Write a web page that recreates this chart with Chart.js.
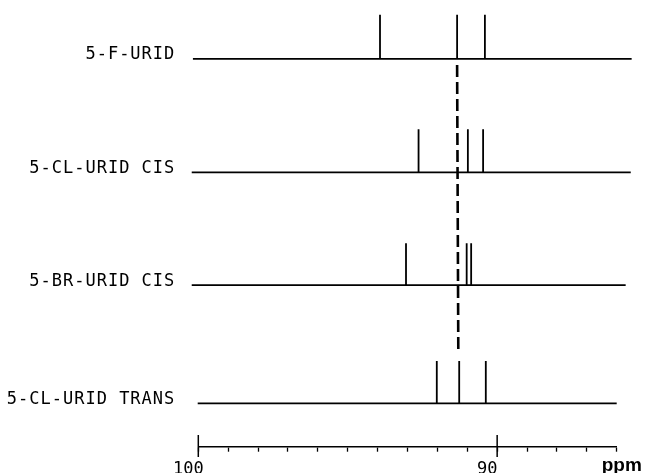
<!DOCTYPE html>
<html>
<head>
<meta charset="utf-8">
<script src="https://cdn.jsdelivr.net/npm/chart.js"></script>
<style>
  body { margin: 0; background: #fff; }
  #c { display: block; }
</style>
</head>
<body>
<canvas id="c" width="645" height="473"></canvas>
<script>
  // spectra, top to bottom
  const names = ['5-F-URID', '5-CL-URID CIS', '5-BR-URID CIS', '5-CL-URID TRANS'];
  const level = [88.8, 62.8, 37.0, 9.9];
  const peakHeight = [10.1, 9.9, 9.6, 9.7];
  const peaks = [
    [93.92, 91.34, 90.41],
    [92.63, 90.98, 90.47],
    [93.05, 91.02, 90.87],
    [92.02, 91.27, 90.38]
  ];
  // ppm window of each trace
  const sweepFrom = [100.18, 100.22, 100.22, 100.02];
  const sweepTo = [85.50, 85.53, 85.70, 86.00];
  // dash-dot guide through the middle lines
  const guideX = [91.34, 91.30];
  const guideY = [87.4, 21.6];
  const majorTicks = [100, 90];

  function stickTrace(i) {
    const pts = [{x: sweepFrom[i], y: level[i]}];
    peaks[i].forEach(p => {
      pts.push({x: p, y: level[i]}, {x: p, y: level[i] + peakHeight[i]}, {x: p, y: level[i]});
    });
    pts.push({x: sweepTo[i], y: level[i]});
    return pts;
  }

  const datasets = names.map((n, i) => ({
    label: n,
    data: stickTrace(i),
    showLine: true,
    pointRadius: 0,
    borderColor: '#000',
    borderWidth: 1.8,
    tension: 0,
    clip: false
  }));
  datasets.push({
    label: 'guide',
    data: guideX.map((x, i) => ({x: x, y: guideY[i]})),
    showLine: true,
    pointRadius: 0,
    borderColor: '#000',
    borderWidth: 2.6,
    borderDash: [12, 5],
    clip: false
  });

  const plotFont = {family: 'DejaVu Sans Mono', size: 17};

  // plotter lettering is a bit wider than the mono font
  const spacedLabels = {
    id: 'spacedLabels',
    afterUpdate(chart) {
      const s = chart.scales.y;
      if (s._spaced) return;
      const orig = s.drawLabels;
      s.drawLabels = function (area) {
        this.ctx.save();
        this.ctx.letterSpacing = '1px';
        orig.call(this, area);
        this.ctx.restore();
      };
      s._spaced = true;
    }
  };

  // long ticks at 100 / 90 and the unit
  const rulerExtras = {
    id: 'rulerExtras',
    afterDraw(chart) {
      const xs = chart.scales.x, ctx = chart.ctx, y0 = xs.top;
      ctx.save();
      ctx.strokeStyle = '#000';
      ctx.lineWidth = 1.5;
      majorTicks.forEach(v => {
        const px = xs.getPixelForValue(v);
        ctx.beginPath();
        ctx.moveTo(px, y0 - 11.7);
        ctx.lineTo(px, y0 + 10.3);
        ctx.stroke();
      });
      ctx.font = 'bold 19px "Liberation Sans"';
      ctx.fillStyle = '#000';
      ctx.textBaseline = 'alphabetic';
      ctx.fillText('ppm', xs.getPixelForValue(86) - 15, y0 + 24.5);
      ctx.restore();
    }
  };

  new Chart(document.getElementById('c'), {
    type: 'scatter',
    data: {datasets: datasets},
    plugins: [spacedLabels, rulerExtras],
    options: {
      responsive: false,
      animation: false,
      layout: {padding: {top: 10, right: 28.3, left: 0, bottom: 0}},
      plugins: {legend: {display: false}, tooltip: {enabled: false}},
      scales: {
        x: {
          type: 'linear',
          reverse: true,
          min: 86,
          max: 100,
          afterBuildTicks: s => {
            s.ticks = [];
            for (let v = 100; v >= 86; v--) s.ticks.push({value: v});
          },
          afterFit: s => {
            s.height = 26.3;
            s.paddingLeft = 0;
            s.paddingRight = 0;
          },
          grid: {drawOnChartArea: false, drawTicks: true, tickLength: 5, tickColor: '#000', tickWidth: 1.3},
          border: {display: true, color: '#000', width: 1.6},
          ticks: {
            autoSkip: false,
            maxRotation: 0,
            padding: 8,
            labelOffset: -10,
            color: '#000',
            font: plotFont,
            callback: v => majorTicks.includes(v) ? String(v) : ''
          }
        },
        y: {
          type: 'linear',
          min: 0,
          max: 100,
          afterBuildTicks: s => { s.ticks = level.map(v => ({value: v})); },
          afterFit: s => {
            s.width = 198.3;
            s.paddingTop = 0;
            s.paddingBottom = 0;
          },
          grid: {display: false, drawTicks: false},
          border: {display: false},
          ticks: {
            padding: 23,
            labelOffset: -4,
            color: '#000',
            font: plotFont,
            callback: v => names[level.indexOf(v)]
          }
        }
      }
    }
  });
</script>
</body>
</html>
